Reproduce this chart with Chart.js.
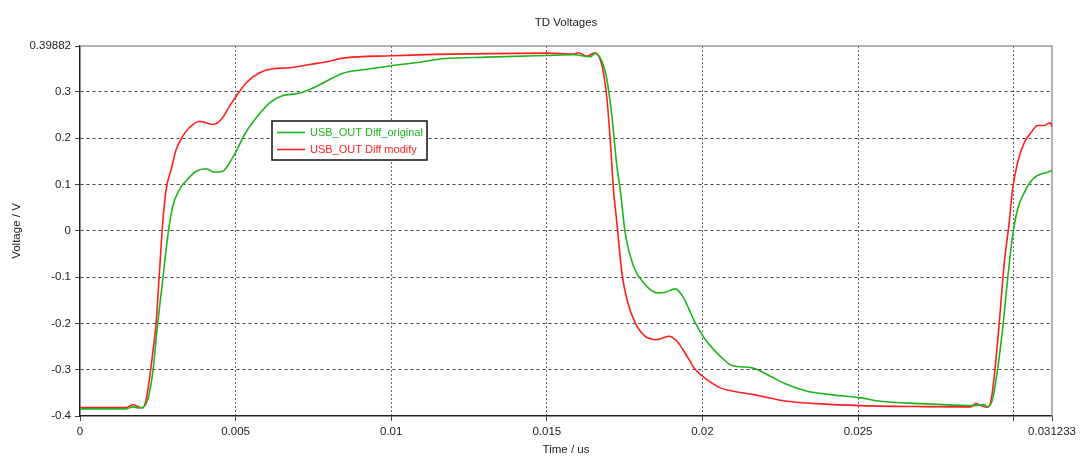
<!DOCTYPE html>
<html>
<head>
<meta charset="utf-8">
<title>TD Voltages</title>
<script src="https://cdn.jsdelivr.net/npm/chart.js@4.4.1/dist/chart.umd.min.js"></script>
<style>
  html, body { margin: 0; padding: 0; background: #fff; }
  #wrap { width: 1080px; height: 462px; position: relative; }
</style>
</head>
<body>
<div id="wrap"><canvas id="tdChart"></canvas></div>
<script>
// time axis in us, values in V
const timeOriginal = [
  0, 0.00148, 0.001693, 0.001909, 0.00207, 0.002176, 0.00223, 0.002337, 0.002498, 0.002659,
  0.002819, 0.00298, 0.003196, 0.003357, 0.003734, 0.004055, 0.004323, 0.00459, 0.004805, 0.005021,
  0.005288, 0.005665, 0.006093, 0.006521, 0.006952, 0.00738, 0.007702, 0.008452, 0.009096, 0.01001,
  0.010921, 0.01167, 0.013067, 0.014998, 0.015855, 0.016392, 0.016553, 0.016769, 0.016929, 0.01709,
  0.017251, 0.017358, 0.017519, 0.017786, 0.018108, 0.018539, 0.018806, 0.019128, 0.019395, 0.019717,
  0.020093, 0.020576, 0.020953, 0.021597, 0.022185, 0.022723, 0.023367, 0.024117, 0.025082, 0.025726,
  0.027013, 0.028301, 0.028729, 0.029051, 0.02916, 0.029321, 0.029482, 0.029643, 0.029804, 0.029965,
  0.030126, 0.030338, 0.030554, 0.030769, 0.031092, 0.031233
];
const voltOriginal = [
  -0.3847, -0.3847, -0.3803, -0.3825, -0.379, -0.3646, -0.3501, -0.3069, -0.1989, -0.1054,
  -0.0119, 0.0529, 0.089, 0.1035, 0.1285, 0.1337, 0.1263, 0.1285, 0.1467, 0.1717,
  0.2078, 0.2438, 0.2762, 0.292, 0.2957, 0.305, 0.3151, 0.3402, 0.3475, 0.3562,
  0.3639, 0.3713, 0.3747, 0.3784, 0.3799, 0.3756, 0.3827, 0.3661, 0.3266, 0.2473,
  0.1393, 0.089, -0.0045, -0.0767, -0.1125, -0.1341, -0.1328, -0.1255, -0.1449, -0.1918,
  -0.235, -0.2711, -0.2911, -0.2961, -0.3143, -0.3322, -0.3466, -0.3538, -0.3609, -0.3683,
  -0.3732, -0.3769, -0.3775, -0.3754, -0.3803, -0.3646, -0.2998, -0.2134, -0.1054, -0.0119,
  0.0458, 0.0819, 0.1069, 0.1192, 0.1263, 0.13
];

const timeModify = [
  0, 0.001265, 0.00148, 0.001693, 0.001909, 0.002015, 0.002124, 0.00223, 0.002337, 0.002446,
  0.002552, 0.002659, 0.002768, 0.002929, 0.00309, 0.003302, 0.003518, 0.00384, 0.004268, 0.004538,
  0.004805, 0.005021, 0.005343, 0.005771, 0.006199, 0.006736, 0.00738, 0.008024, 0.008452, 0.01001,
  0.011992, 0.014998, 0.015855, 0.016016, 0.016286, 0.016553, 0.016714, 0.01682, 0.016929, 0.017036,
  0.017142, 0.017251, 0.017412, 0.017573, 0.01784, 0.018162, 0.018539, 0.018912, 0.019183, 0.019504,
  0.019772, 0.020148, 0.020576, 0.021004, 0.021648, 0.022723, 0.023795, 0.025082, 0.027013, 0.028623,
  0.028784, 0.028944, 0.02916, 0.029267, 0.029372, 0.029533, 0.029694, 0.029855, 0.029965, 0.030126,
  0.030338, 0.030554, 0.030769, 0.030982, 0.031175, 0.031233
];
const voltModify = [
  -0.382, -0.382, -0.382, -0.3754, -0.3812, -0.3825, -0.3646, -0.3214, -0.2637, -0.1989,
  -0.0903, 0.0177, 0.089, 0.1322, 0.1754, 0.2041, 0.2229, 0.2365, 0.2294, 0.2402,
  0.2689, 0.2905, 0.3194, 0.341, 0.3497, 0.3518, 0.359, 0.366, 0.3726, 0.3778,
  0.3812, 0.3834, 0.3812, 0.3842, 0.3769, 0.3842, 0.3698, 0.341, 0.2877, 0.197,
  0.089, 0.0171, -0.0909, -0.1486, -0.1989, -0.2279, -0.235, -0.2279, -0.2387, -0.2711,
  -0.2998, -0.3214, -0.3393, -0.3466, -0.3538, -0.3683, -0.3739, -0.3775, -0.3797, -0.3803,
  -0.3732, -0.3775, -0.3812, -0.3683, -0.3171, -0.2026, -0.073, 0.0171, 0.089, 0.1467,
  0.1898, 0.2114, 0.2272, 0.2272, 0.233, 0.2244
];

const seriesNames = ['USB_OUT Diff_original', 'USB_OUT Diff modify'];

const xTickValues = [0, 0.005, 0.01, 0.015, 0.02, 0.025, 0.03, 0.031233];
const xTickLabels = ['0', '0.005', '0.01', '0.015', '0.02', '0.025', '', '0.031233'];
const yTickValues = [-0.4, -0.3, -0.2, -0.1, 0, 0.1, 0.2, 0.3, 0.39882];
const yTickLabels = ['-0.4', '-0.3', '-0.2', '-0.1', '0', '0.1', '0.2', '0.3', '0.39882'];

const FONT = 'Liberation Sans, Arial, sans-serif';

function pts(t, v) {
  return t.map((x, i) => ({ x: x, y: v[i] }));
}

// title, top/right frame and the boxed legend
const decor = {
  id: 'decor',
  beforeDatasetsDraw(chart) {
    const { ctx, chartArea: a } = chart;
    ctx.save();
    ctx.strokeStyle = '#9a9a9a';
    ctx.lineWidth = 1.5;
    ctx.beginPath();
    ctx.moveTo(a.left, a.top);
    ctx.lineTo(a.right, a.top);
    ctx.lineTo(a.right, a.bottom);
    ctx.stroke();
    ctx.restore();
  },
  afterDraw(chart) {
    const { ctx, chartArea: a } = chart;
    ctx.save();
    ctx.fillStyle = '#222';
    ctx.font = '11.5px ' + FONT;
    ctx.textAlign = 'center';
    ctx.textBaseline = 'middle';
    ctx.fillText('TD Voltages', (a.left + a.right) / 2, 23);

    // legend box
    const bx = 272, by = 121, bw = 155, bh = 39;
    ctx.fillStyle = '#fff';
    ctx.fillRect(bx, by, bw, bh);
    ctx.strokeStyle = '#111';
    ctx.lineWidth = 1.5;
    ctx.strokeRect(bx, by, bw, bh);
    ctx.textAlign = 'left';
    ctx.font = '11px ' + FONT;
    chart.data.datasets.forEach((ds, i) => {
      const y = by + 11.5 + i * 17;
      ctx.strokeStyle = ds.borderColor;
      ctx.lineWidth = 1.6;
      ctx.beginPath();
      ctx.moveTo(bx + 5, y);
      ctx.lineTo(bx + 33, y);
      ctx.stroke();
      ctx.fillStyle = ds.borderColor;
      ctx.fillText(ds.label, bx + 38, y + 0.5);
    });
    ctx.restore();
  }
};

new Chart(document.getElementById('tdChart'), {
  type: 'line',
  data: {
    datasets: [{
      label: seriesNames[0],
      data: pts(timeOriginal, voltOriginal),
      borderColor: '#1eb41e',
      borderWidth: 1.6,
      pointRadius: 0,
      cubicInterpolationMode: 'monotone'
    }, {
      label: seriesNames[1],
      data: pts(timeModify, voltModify),
      borderColor: '#ff1f1f',
      borderWidth: 1.6,
      pointRadius: 0,
      cubicInterpolationMode: 'monotone'
    }]
  },
  options: {
    responsive: true,
    maintainAspectRatio: false,
    animation: false,
    layout: { padding: { top: 46, right: 27, left: 0, bottom: 0 } },
    plugins: {
      legend: { display: false },
      title: { display: false },
      tooltip: { enabled: false }
    },
    scales: {
      x: {
        type: 'linear',
        min: 0,
        max: 0.031233,
        afterBuildTicks: s => { s.ticks = xTickValues.map(v => ({ value: v })); },
        afterFit: s => { s.height = 46; },
        ticks: {
          autoSkip: false,
          maxRotation: 0,
          padding: 4,
          color: '#222',
          font: { family: FONT, size: 11.5 },
          callback: (v, i) => xTickLabels[i]
        },
        grid: {
          color: c => (c.tick && (c.tick.value === 0 || c.tick.value === 0.031233)) ? 'rgba(0,0,0,0)' : '#666',
          tickColor: '#444',
          tickLength: 5,
          lineWidth: 1
        },
        border: { display: true, color: '#222', width: 1.5, dash: [2, 2] },
        title: {
          display: true,
          text: 'Time / us',
          color: '#222',
          font: { family: FONT, size: 11.5 },
          padding: { top: 0, bottom: 5 }
        }
      },
      y: {
        type: 'linear',
        min: -0.4,
        max: 0.39882,
        afterBuildTicks: s => { s.ticks = yTickValues.map(v => ({ value: v })); },
        afterFit: s => { s.width = 80; },
        ticks: {
          autoSkip: false,
          padding: 4,
          color: '#222',
          font: { family: FONT, size: 11.5 },
          callback: (v, i) => yTickLabels[i]
        },
        grid: {
          color: c => (c.tick && (c.tick.value === -0.4 || c.tick.value === 0.39882)) ? 'rgba(0,0,0,0)' : '#444',
          tickColor: '#444',
          tickLength: 5,
          lineWidth: 1
        },
        border: { display: true, color: '#222', width: 1.5, dash: [3, 3] },
        title: {
          display: true,
          text: 'Voltage / V',
          color: '#222',
          font: { family: FONT, size: 11.5 },
          padding: { top: 10, bottom: 0 }
        }
      }
    }
  },
  plugins: [decor]
});
</script>
</body>
</html>
